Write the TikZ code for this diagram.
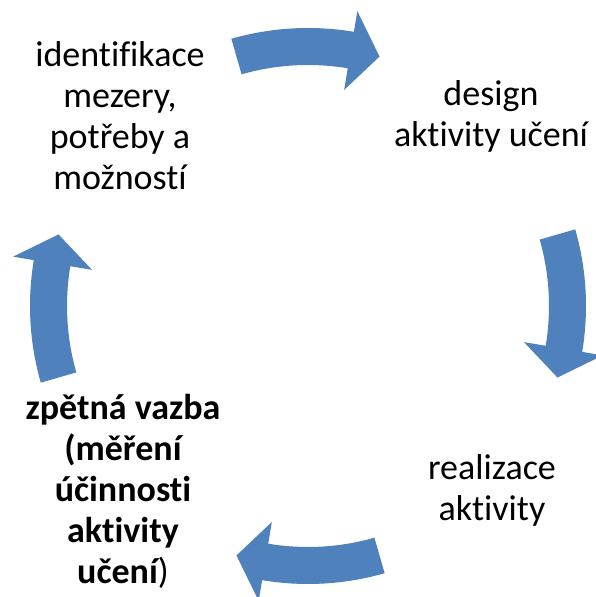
\documentclass[tikz,border=0pt]{standalone}
\usepackage{fontspec}
\setmainfont[Ligatures=NoCommon]{Carlito}
\definecolor{arrowblue}{HTML}{4F81BD}
\tikzset{
  cyclearrow/.style={fill=arrowblue, draw=none},
  label text/.style={font=\fontsize{36}{41}\selectfont, align=center, inner sep=0pt, anchor=base, text=black},
}
\newcommand{\cyclearrowat}[1]{%
  \fill[cyclearrow]
    (#1+16:278) arc[start angle=#1+16, end angle=#1-9.5, radius=278]
    -- (#1-9.5:299) -- (#1-16:259.5) -- (#1-9.5:219) -- (#1-9.5:241)
    arc[start angle=#1-9.5, end angle=#1+16, radius=241] -- cycle;}
\begin{document}
\begin{tikzpicture}[x=1pt,y=1pt]
\useasboundingbox (0,0) rectangle (595,597);
\coordinate (C) at (308,291);
\begin{scope}[shift={(C)}]
  \cyclearrowat{90}
  \cyclearrowat{0}
  \cyclearrowat{-90}
  \cyclearrowat{180}
\end{scope}
% anchor=base is the baseline of the last line
\node[label text] (ident) at (120,407) {identifikace\\mezery,\\potřeby a\\možností};
\node[label text] (design) at (491,450) {design\\aktivity učení};
\node[label text] (real) at (492,76) {realizace\\aktivity};
\node[label text, font=\fontsize{36}{41}\selectfont\bfseries] (zpet) at (123,13) {zpětná vazba\\(měření\\účinnosti\\aktivity\\učení{\mdseries)}};
\end{tikzpicture}
\end{document}
